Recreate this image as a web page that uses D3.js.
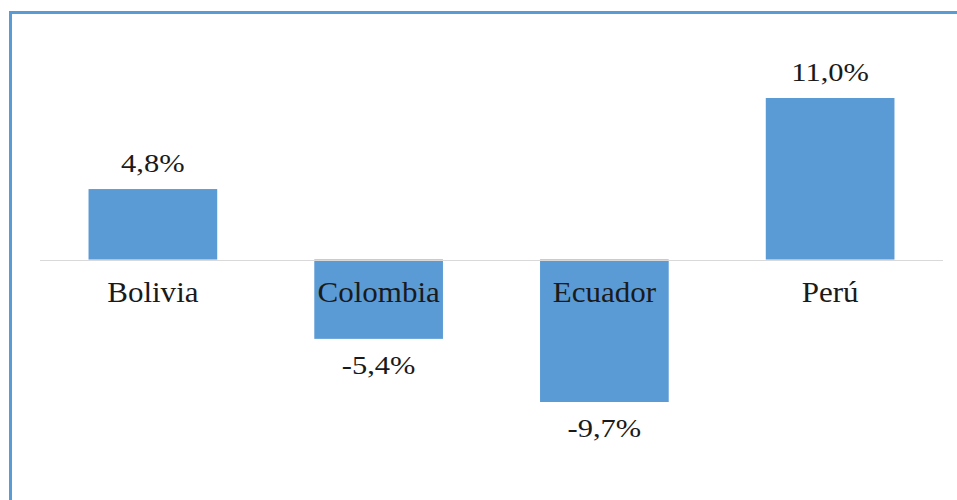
<!DOCTYPE html>
<html>
<head>
<meta charset="utf-8">
<script src="https://cdn.jsdelivr.net/npm/d3@7"></script>
<style>
  html, body { margin: 0; padding: 0; background: #fff; }
  svg { display: block; }
</style>
</head>
<body>
<svg id="chart" width="957" height="500"></svg>
<script>
const categories = ["Bolivia", "Colombia", "Ecuador", "Perú"];
const values = [4.8, -5.4, -9.7, 11.0];
const valueLabels = ["4,8%", "-5,4%", "-9,7%", "11,0%"];

const svg = d3.select("#chart");
const W = 957, H = 500;

// frame
svg.append("rect")
  .attr("x", 10.5).attr("y", 12.5)
  .attr("width", W + 20).attr("height", H + 20)
  .attr("fill", "none")
  .attr("stroke", "#5b9bd5")
  .attr("stroke-width", 3);

const x = d3.scaleBand().domain(categories).range([40, 943]).paddingInner(0.43).paddingOuter(0.215);
const y = d3.scaleLinear().domain([-9.7, 11.0]).range([402, 98]);

const data = categories.map((c, i) => ({ c, v: values[i], label: valueLabels[i] }));

svg.selectAll("rect.bar").data(data).enter().append("rect")
  .attr("class", "bar")
  .attr("x", d => x(d.c))
  .attr("width", x.bandwidth())
  .attr("y", d => y(Math.max(0, d.v)))
  .attr("height", d => Math.abs(y(d.v) - y(0)))
  .attr("fill", "#5b9bd5");

// zero line
svg.append("line")
  .attr("x1", 40).attr("x2", 943)
  .attr("y1", Math.round(y(0)) + 0.5).attr("y2", Math.round(y(0)) + 0.5)
  .attr("stroke", "#d9d9d9").attr("stroke-width", 1);

// category labels
svg.selectAll("text.cat").data(data).enter().append("text")
  .attr("class", "cat")
  .attr("x", d => x(d.c) + x.bandwidth() / 2)
  .attr("y", y(0) + 42)
  .attr("text-anchor", "middle")
  .attr("font-family", "'Liberation Serif', 'Times New Roman', serif")
  .attr("font-size", 29)
  .attr("fill", "#1a1a1a")
  .attr("transform", d => {
    const cx = x(d.c) + x.bandwidth() / 2;
    return `translate(${cx},0) scale(1.07,1) translate(${-cx},0)`;
  })
  .text(d => d.c);

// value labels
svg.selectAll("text.val").data(data).enter().append("text")
  .attr("class", "val")
  .attr("x", d => x(d.c) + x.bandwidth() / 2)
  .attr("y", d => d.v >= 0 ? y(d.v) - 17 : y(d.v) + 35)
  .attr("text-anchor", "middle")
  .attr("font-family", "'Liberation Serif', 'Times New Roman', serif")
  .attr("font-size", 25)
  .attr("fill", "#1a1a1a")
  .attr("transform", d => {
    const cx = x(d.c) + x.bandwidth() / 2;
    return `translate(${cx},0) scale(1.22,1) translate(${-cx},0)`;
  })
  .text(d => d.label);
</script>
</body>
</html>
